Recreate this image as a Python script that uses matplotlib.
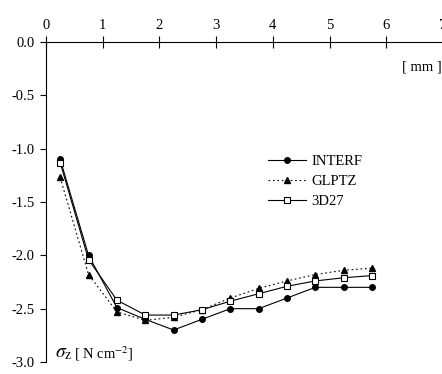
import matplotlib
matplotlib.use("Agg")
import matplotlib.pyplot as plt

plt.rcParams['font.family'] = ['Liberation Serif', 'DejaVu Serif']
plt.rcParams['mathtext.fontset'] = 'stix'

# depth positions [mm]
x = [0.25, 0.75, 1.25, 1.75, 2.25, 2.75, 3.25, 3.75, 4.25, 4.75, 5.25, 5.75]
interf = [-1.10, -2.00, -2.49, -2.60, -2.70, -2.60, -2.50, -2.50, -2.40, -2.30, -2.30, -2.30]
glptz = [-1.27, -2.18, -2.53, -2.61, -2.58, -2.51, -2.40, -2.31, -2.24, -2.18, -2.14, -2.12]
d27 = [-1.13, -2.04, -2.42, -2.56, -2.56, -2.51, -2.43, -2.36, -2.29, -2.24, -2.21, -2.19]

xticks = [0, 1, 2, 3, 4, 5, 6, 7]
yticks = [0.0, -0.5, -1.0, -1.5, -2.0, -2.5, -3.0]

fig = plt.figure(figsize=(4.42, 3.74), dpi=100)
ax = fig.add_axes([46/442, 1 - 362/374, (443 - 46)/442, (362 - 42)/374])

ax.plot(x, interf, color='black', lw=0.8, marker='o', ms=4, mfc='black', label='INTERF')
ax.plot(x, glptz, color='black', lw=0.8, ls=(0, (1.5, 2.5)), marker='^', ms=4.5, mfc='black', label='GLPTZ')
ax.plot(x, d27, color='black', lw=0.8, marker='s', ms=4, mfc='white', mew=0.8, label='3D27')

ax.set_xlim(0, 7)
ax.set_ylim(-3.0, 0.0)
ax.set_xticks(xticks)
ax.set_yticks(yticks)
ax.set_yticklabels([f"{v:.1f}" for v in yticks])

ax.xaxis.tick_top()
ax.spines['right'].set_visible(False)
ax.spines['bottom'].set_visible(False)
ax.spines['top'].set_linewidth(0.8)
ax.spines['left'].set_linewidth(0.8)
ax.tick_params(axis='x', direction='inout', length=8, width=0.8, labelsize=10.5, pad=3)
ax.tick_params(axis='y', direction='out', length=4, width=0.8, labelsize=10.5, pad=4)

ax.text(6.97, -0.23, '[ mm ]', fontsize=10.5, ha='right', va='center')
ax.text(0.15, -2.92, r'$\sigma_{\mathrm{z}}$', fontsize=14, ha='left', va='center')
ax.text(0.5, -2.92, r'[ N cm$^{-2}$]', fontsize=10.5, ha='left', va='center')

ax.legend(loc='upper left', bbox_to_anchor=(0.54, 0.67), frameon=False, fontsize=10.5,
          handlelength=2.6, handletextpad=0.4, labelspacing=0.45, borderpad=0)

fig.savefig('out.png', dpi=100)
